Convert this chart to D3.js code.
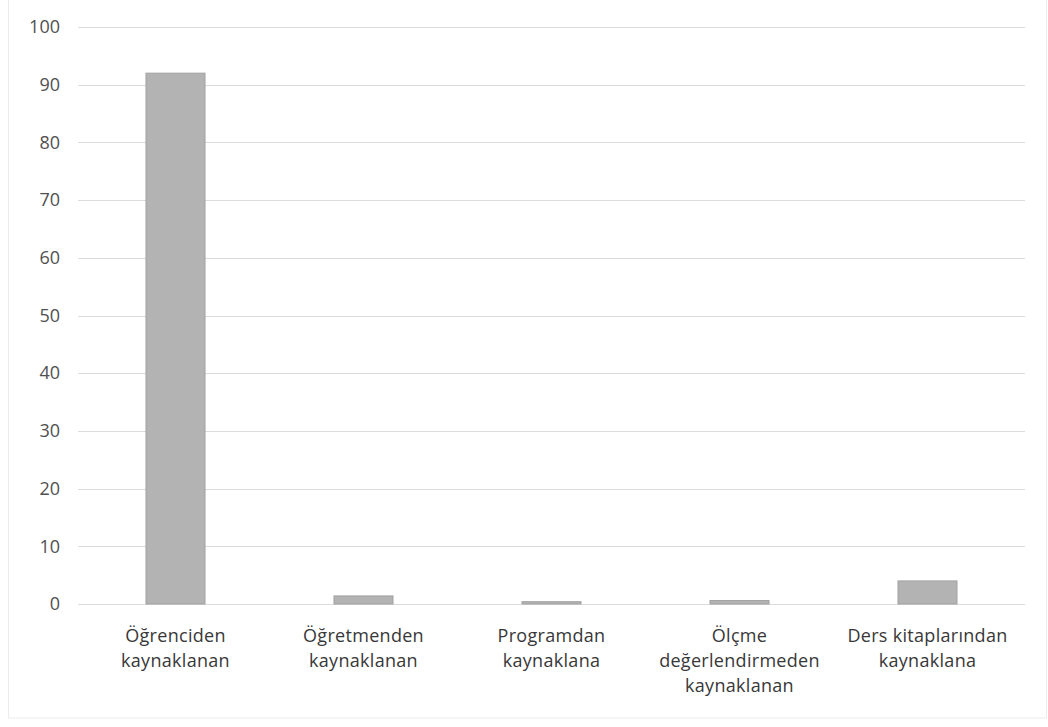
<!DOCTYPE html>
<html>
<head>
<meta charset="utf-8">
<script src="https://cdn.jsdelivr.net/npm/d3@7"></script>
<style>
  html, body { margin: 0; padding: 0; background: #ffffff; }
  svg { display: block; }
</style>
</head>
<body>
<svg id="chart" width="1048" height="727"></svg>
<script>
// Category labels, one array entry per line of the wrapped label
const categories = [
  ["Öğrenciden", "kaynaklanan"],
  ["Öğretmenden", "kaynaklanan"],
  ["Programdan", "kaynaklana"],
  ["Ölçme", "değerlendirmeden", "kaynaklanan"],
  ["Ders kitaplarından", "kaynaklana"]
];
const values = [92, 1.4, 0.4, 0.6, 4];
const yTicks = [0, 10, 20, 30, 40, 50, 60, 70, 80, 90, 100];

const svg = d3.select("#chart");
const W = 1048, H = 727;
const plot = { left: 78, right: 1025, top: 27, bottom: 604 };
const font = "'Open Sans', 'Liberation Sans', sans-serif";

// faint chart frame
svg.append("rect")
  .attr("x", 8.5).attr("y", -1).attr("width", W - 10).attr("height", 719)
  .attr("fill", "none").attr("stroke", "#ececec").attr("stroke-width", 1);

const x = d3.scaleBand()
  .domain(d3.range(categories.length))
  .range([81.5, 1021.5])
  .paddingInner(0.686).paddingOuter(0.343);

const y = d3.scaleLinear().domain([0, 100]).range([plot.bottom, plot.top]);

// gridlines
svg.append("g")
  .selectAll("line")
  .data(yTicks)
  .join("line")
  .attr("x1", plot.left).attr("x2", plot.right)
  .attr("y1", d => Math.round(y(d)) + 0.5).attr("y2", d => Math.round(y(d)) + 0.5)
  .attr("stroke", "#dcdcdc").attr("stroke-width", 1);

// y axis labels
const yAxis = d3.axisLeft(y).tickValues(yTicks).tickSize(0).tickPadding(0);
const yg = svg.append("g")
  .attr("transform", `translate(${plot.left - 18},0)`)
  .call(yAxis);
yg.select(".domain").remove();
yg.selectAll("text")
  .attr("font-family", font)
  .attr("font-size", 18)
  .attr("fill", "#505050");

// bars
svg.append("g")
  .selectAll("rect")
  .data(values)
  .join("rect")
  .attr("x", (d, i) => x(i))
  .attr("y", d => y(d))
  .attr("width", x.bandwidth())
  .attr("height", d => y(0) - y(d))
  .attr("fill", "#b3b3b3")
  .attr("stroke", "#a2a2a2")
  .attr("stroke-width", 1);

// category labels
const xg = svg.append("g");
categories.forEach((lines, i) => {
  const cx = x(i) + x.bandwidth() / 2;
  const t = xg.append("text")
    .attr("x", cx)
    .attr("y", y(0) + 38)
    .attr("text-anchor", "middle")
    .attr("font-family", font)
    .attr("font-size", 18)
    .attr("letter-spacing", 0.3)
    .attr("fill", "#383838");
  lines.forEach((ln, k) => {
    t.append("tspan")
      .attr("x", cx)
      .attr("dy", k === 0 ? 0 : 25)
      .text(ln);
  });
});
</script>
</body>
</html>
